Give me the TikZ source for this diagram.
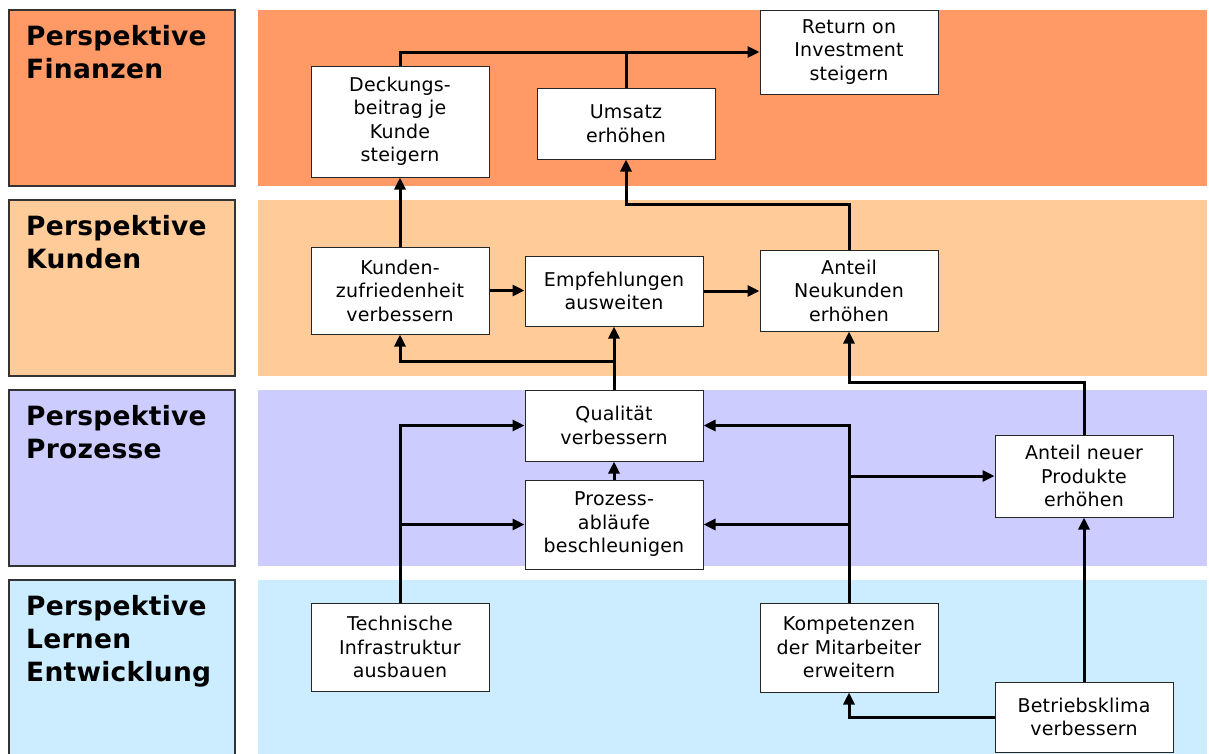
\documentclass[tikz,border=0pt]{standalone}
\usepackage{fontspec}
\setmainfont[LetterSpace=1]{DejaVu Sans}
\usetikzlibrary{arrows.meta,positioning,calc}

\definecolor{finanz}{HTML}{FF9966}
\definecolor{kunde}{HTML}{FFCC99}
\definecolor{prozess}{HTML}{CCCCFF}
\definecolor{lernen}{HTML}{CCECFF}

\begin{document}
\begin{tikzpicture}[
  x=1pt, y=-1pt, >={Triangle[length=12pt,width=11pt]},
  every node/.style={font=\fontsize{19}{23.5}\selectfont},
  persp/.style={draw=black!80, line width=1.2pt, minimum width=226pt,
                minimum height=176pt, inner sep=0pt},
  ptitle/.style={anchor=north west, align=left, inner sep=0pt,
                 font=\fontsize{26.5}{33}\selectfont\bfseries},
  band/.style={minimum width=949pt, minimum height=176pt, inner sep=0pt},
  goal/.style={draw=black!85, line width=1pt, fill=white, align=center,
               minimum width=178pt, inner sep=0pt},
  link/.style={->, line width=3pt},
]
\useasboundingbox (0,0) rectangle (1209,753);

% Perspektiven
\node[persp, fill=finanz]  (pfin) at (122,98)  {};
\node[persp, fill=kunde]   (pkun) at (122,288) {};
\node[persp, fill=prozess] (ppro) at (122,478) {};
\node[persp, fill=lernen]  (pler) at (122,668) {};
\node[band, fill=finanz]  (bfin) at (732.5,98)  {};
\node[band, fill=kunde]   (bkun) at (732.5,288) {};
\node[band, fill=prozess] (bpro) at (732.5,478) {};
\node[band, fill=lernen]  (bler) at (732.5,668) {};
\node[ptitle] (tfin) at (26,25)  {Perspektive\\Finanzen};
\node[ptitle] (tkun) at (26,215) {Perspektive\\Kunden};
\node[ptitle] (tpro) at (26,405) {Perspektive\\Prozesse};
\node[ptitle] (tler) at (26,595) {Perspektive\\Lernen\\Entwicklung};

% Ziele
\node[goal, minimum height=111pt] (deck) at (400,121.5)
  {Deckungs-\\beitrag je\\Kunde\\steigern};
\node[goal, minimum height=71pt] (umsatz) at (626,123.5) {Umsatz\\erhöhen};
\node[goal, minimum height=84pt] (roi) at (849,52)
  {Return on\\Investment\\steigern};
\node[goal, minimum height=87pt] (kzuf) at (400,290.5)
  {Kunden-\\zufriedenheit\\verbessern};
\node[goal, minimum height=70pt] (empf) at (614,291)
  {Empfehlungen\\ausweiten};
\node[goal, minimum height=81pt] (neuk) at (849,290.5)
  {Anteil\\Neukunden\\erhöhen};
\node[goal, minimum height=71pt] (qual) at (614,425.5)
  {Qualität\\verbessern};
\node[goal, minimum height=89pt] (proz) at (614,524.5)
  {Prozess-\\abläufe\\beschleunigen};
\node[goal, minimum height=82pt] (neuprod) at (1084,476)
  {Anteil neuer\\Produkte\\erhöhen};
\node[goal, minimum height=88pt] (tech) at (400,647)
  {Technische\\Infrastruktur\\ausbauen};
\node[goal, minimum height=89pt] (komp) at (849,647.5)
  {Kompetenzen\\der Mitarbeiter\\erweitern};
\node[goal, minimum height=70pt] (klima) at (1084,717)
  {Betriebsklima\\verbessern};

% Verbindungen
\draw[link] (deck.north) |- (roi.west);
\draw[line width=3pt] (umsatz.north) -- (umsatz.north |- roi.west);
\draw[link] (kzuf.north) -- (deck.south);
\draw[link] (neuk.north) -- ++(0,-45) -| (umsatz.south);
\draw[link] (kzuf.east) -- (kzuf.east -| empf.west);
\draw[link] (empf.east) -- (empf.east -| neuk.west);
\draw[link] (qual.north) -- (empf.south);
\draw[link] ($(qual.north)+(0,-28)$) -| (kzuf.south);
\draw[link] (proz.north) -- (qual.south);
\draw[link] (tech.north) |- (qual.west);
\draw[link] (tech.north |- proz.west) -- (proz.west);
\draw[link] (komp.north) |- (qual.east);
\draw[link] (komp.north |- proz.east) -- (proz.east);
\draw[link] (komp.north |- neuprod.west) -- (neuprod.west);
\draw[link] (neuprod.north) -- ++(0,-52) -| (neuk.south);
\draw[link] (klima.north) -- (neuprod.south);
\draw[link] (klima.west) -| (komp.south);
\end{tikzpicture}
\end{document}
